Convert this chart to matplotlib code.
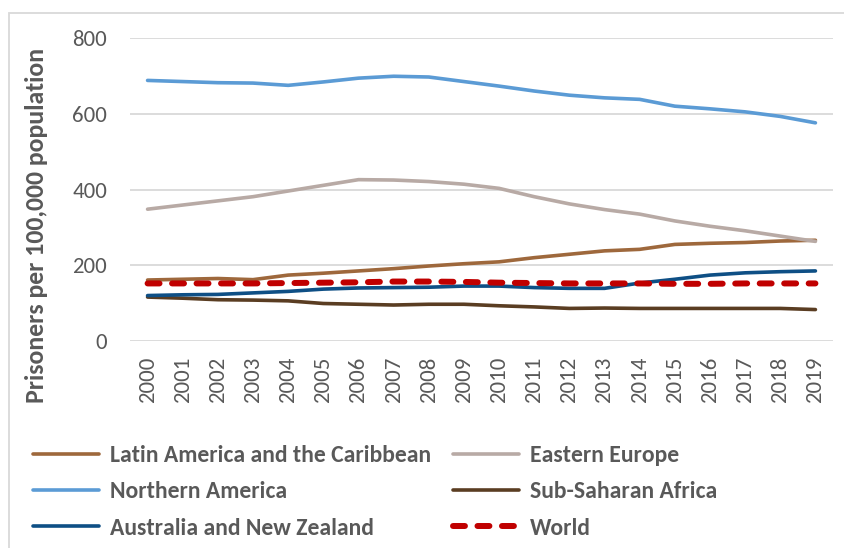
import matplotlib
matplotlib.use("Agg")
import matplotlib.pyplot as plt
from matplotlib.patches import Rectangle

plt.rcParams['font.family'] = ['Carlito', 'Lato', 'DejaVu Sans']

years = [str(y) for y in range(2000, 2020)]
latin_america = [161, 163, 165, 162, 174, 179, 185, 191, 198, 204, 209, 220, 229, 238, 242, 255, 258, 260, 264, 266]
eastern_europe = [348, 359, 370, 381, 396, 411, 426, 425, 421, 414, 403, 381, 362, 347, 335, 317, 303, 291, 277, 263]
northern_america = [688, 685, 682, 681, 675, 684, 694, 699, 697, 685, 673, 660, 649, 642, 638, 620, 613, 605, 593, 576]
sub_saharan = [116, 113, 109, 108, 106, 99, 97, 95, 97, 97, 93, 90, 86, 87, 86, 86, 86, 86, 86, 83]
aus_nz = [120, 122, 123, 127, 131, 137, 140, 141, 142, 145, 145, 141, 139, 139, 153, 163, 174, 180, 183, 185]
world = [152, 152, 152, 152, 153, 154, 155, 157, 157, 156, 154, 153, 152, 152, 152, 151, 151, 152, 152, 152]
yticks = [0, 200, 400, 600, 800]

W, H = 845, 548
fig = plt.figure(figsize=(W / 100, H / 100), dpi=100)
fig.patches.append(Rectangle((9.5 / W, -0.1), 1.2, 1.1 - 13.5 / H, transform=fig.transFigure,
                             fill=False, edgecolor='#d9d9d9', linewidth=1.3))

ax = fig.add_axes([130 / W, 1 - 341 / H, 703 / W, 303 / H])
x = list(range(len(years)))
txt = '#595959'

series = [
    ("Latin America and the Caribbean", latin_america, '#9e683c'),
    ("Eastern Europe", eastern_europe, '#b8aaa5'),
    ("Northern America", northern_america, '#5b9bd5'),
    ("Sub-Saharan Africa", sub_saharan, '#5a3d22'),
    ("Australia and New Zealand", aus_nz, '#0e4f85'),
]
handles = {}
for name, vals, col in series:
    h, = ax.plot(x, vals, color=col, linewidth=2.6, solid_capstyle='round', label=name)
    handles[name] = h
h, = ax.plot(x, world, color='#c00000', linewidth=4.3, linestyle=(0, (2.0, 2.1)),
             dash_capstyle='round', label="World")
handles["World"] = h

ax.set_xlim(-0.5, len(years) - 0.5)
ax.set_ylim(0, 800)
ax.set_yticks(yticks)
ax.set_yticklabels([str(v) for v in yticks])
ax.set_xticks(x)
ax.set_xticklabels(years, rotation=90)
ax.grid(axis='y', color='#d9d9d9', linewidth=1.3)
ax.set_axisbelow(True)
for s in ax.spines.values():
    s.set_visible(False)
ax.tick_params(axis='both', length=0, colors=txt, labelsize=16.5)
ax.tick_params(axis='y', pad=16.5)
ax.tick_params(axis='x', pad=11)
ax.set_ylabel("Prisoners per 100,000 population", fontsize=18.5, fontweight='bold', color=txt)
ax.yaxis.set_label_coords((36 - 130) / 703, (341 - 225) / 303)
ax.yaxis.label.set_va('center')

order = ["Latin America and the Caribbean", "Northern America", "Australia and New Zealand",
         "Eastern Europe", "Sub-Saharan Africa", "World"]
leg = fig.legend([handles[n] for n in order], order, ncol=2, loc='upper left',
                 bbox_to_anchor=(14 / W, 1 - 426 / H), frameon=False,
                 prop={'weight': 'bold', 'size': 17}, handlelength=2.8, handletextpad=0.45,
                 columnspacing=0.95, labelspacing=0.65, borderpad=0.3)
for t in leg.get_texts():
    t.set_color(txt)

fig.savefig("out.png", dpi=100)
